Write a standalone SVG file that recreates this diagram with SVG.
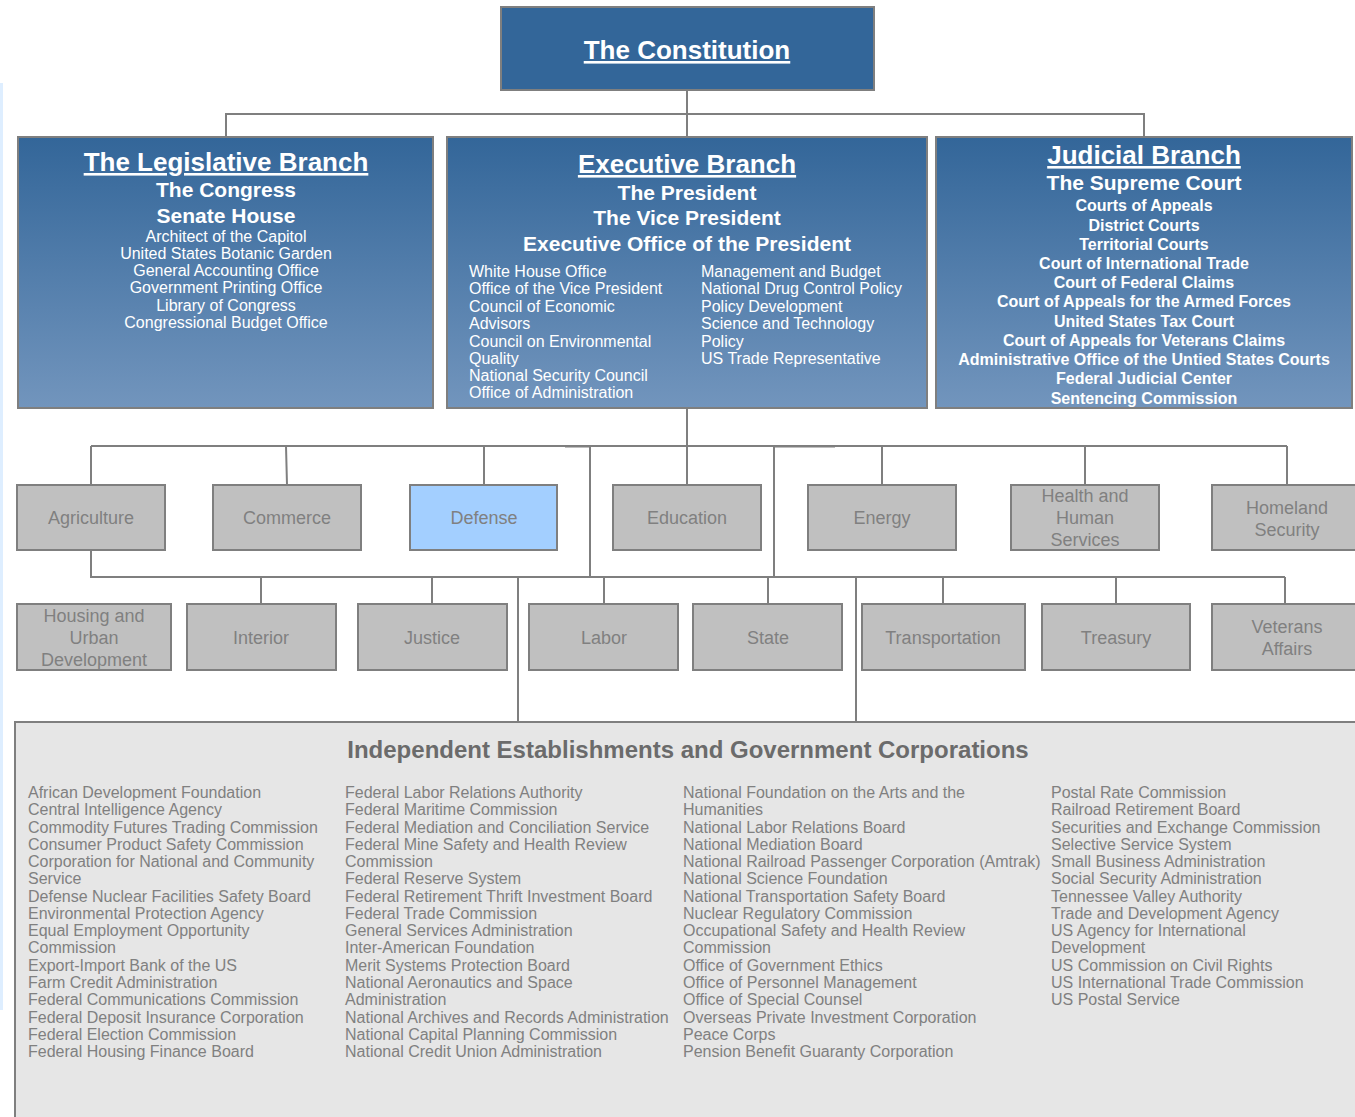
<svg xmlns="http://www.w3.org/2000/svg" width="1355" height="1117" viewBox="0 0 1355 1117">
<defs>
<linearGradient id="bg" x1="0" y1="0" x2="0" y2="1">
<stop offset="0" stop-color="#336699"/>
<stop offset="1" stop-color="#7295bd"/>
</linearGradient>
<style>
text{font-family:"Liberation Sans",Arial,sans-serif}
.br{fill:url(#bg);stroke:#7f7f7f;stroke-width:2}
.ttl{fill:#fff;font-weight:bold;font-size:26px;text-anchor:middle;text-decoration:underline}
.sub{fill:#fff;font-weight:bold;font-size:21px;text-anchor:middle}
.sm{fill:#fff;font-size:16px}
.smc{fill:#fff;font-size:16px;text-anchor:middle}
.smb{fill:#fff;font-size:16px;font-weight:bold;text-anchor:middle}
.dep{fill:#c0c0c0;stroke:#7f7f7f;stroke-width:2}
.dt{fill:#808080;font-size:18px;text-anchor:middle}
.con{stroke:#7f7f7f;stroke-width:2;fill:none}
.it{fill:#808080;font-size:16px}
</style>
</defs>
<rect x="0" y="0" width="1355" height="1117" fill="#fff"/>
<rect x="0" y="83" width="3" height="927" fill="#deeeff"/>

<g id="connectors">
<path class="con" d="M687 90V137M226 137V114H1144V137"/>
<path class="con" d="M687 408V446M91 446H1287M91 446V485M286 446L287 485M484 446V485M687 446V485M882 446V485M1085 446V485M1287 446V485"/>
<path class="con" d="M565 446.5H590M774 446.5H835" stroke-width="3"/>
<path class="con" d="M590 447V577M774 447V577"/>
<path class="con" d="M91 550V577H1285M261 577V604M432 577V604M604 577V604M768 577V604M943 577V604M1116 577V604M1285 577V604"/>
<path class="con" d="M518 577V722M856 577V722"/>
</g>

<g id="constitution">
<rect x="501" y="7" width="373" height="83" fill="#336699" stroke="#7f7f7f" stroke-width="2"/>
<text class="ttl" x="687" y="59">The Constitution</text>
</g>

<g id="legislative">
<rect class="br" x="18" y="137" width="415" height="271"/>
<text class="ttl" x="226" y="171">The Legislative Branch</text>
<text class="sub" x="226" y="197">The Congress</text>
<text class="sub" x="226" y="223">Senate House</text>
<text class="smc" x="226" y="242">Architect of the Capitol</text>
<text class="smc" x="226" y="259">United States Botanic Garden</text>
<text class="smc" x="226" y="276">General Accounting Office</text>
<text class="smc" x="226" y="293">Government Printing Office</text>
<text class="smc" x="226" y="311">Library of Congress</text>
<text class="smc" x="226" y="328">Congressional Budget Office</text>
</g>

<g id="executive">
<rect class="br" x="447" y="137" width="480" height="271"/>
<text class="ttl" x="687" y="173">Executive Branch</text>
<text class="sub" x="687" y="200">The President</text>
<text class="sub" x="687" y="225">The Vice President</text>
<text class="sub" x="687" y="251">Executive Office of the President</text>
<text class="sm" x="469" y="277">White House Office</text>
<text class="sm" x="469" y="294">Office of the Vice President</text>
<text class="sm" x="469" y="312">Council of Economic</text>
<text class="sm" x="469" y="329">Advisors</text>
<text class="sm" x="469" y="347">Council on Environmental</text>
<text class="sm" x="469" y="364">Quality</text>
<text class="sm" x="469" y="381">National Security Council</text>
<text class="sm" x="469" y="398">Office of Administration</text>
<text class="sm" x="701" y="277">Management and Budget</text>
<text class="sm" x="701" y="294">National Drug Control Policy</text>
<text class="sm" x="701" y="312">Policy Development</text>
<text class="sm" x="701" y="329">Science and Technology</text>
<text class="sm" x="701" y="347">Policy</text>
<text class="sm" x="701" y="364">US Trade Representative</text>
</g>

<g id="judicial">
<rect class="br" x="936" y="137" width="416" height="271"/>
<text class="ttl" x="1144" y="164">Judicial Branch</text>
<text class="sub" x="1144" y="190">The Supreme Court</text>
<text class="smb" x="1144" y="211">Courts of Appeals</text>
<text class="smb" x="1144" y="231">District Courts</text>
<text class="smb" x="1144" y="250">Territorial Courts</text>
<text class="smb" x="1144" y="269">Court of International Trade</text>
<text class="smb" x="1144" y="288">Court of Federal Claims</text>
<text class="smb" x="1144" y="307">Court of Appeals for the Armed Forces</text>
<text class="smb" x="1144" y="327">United States Tax Court</text>
<text class="smb" x="1144" y="346">Court of Appeals for Veterans Claims</text>
<text class="smb" x="1144" y="365">Administrative Office of the Untied States Courts</text>
<text class="smb" x="1144" y="384">Federal Judicial Center</text>
<text class="smb" x="1144" y="404">Sentencing Commission</text>
</g>

<g id="agriculture"><rect class="dep" x="17" y="485" width="148" height="65"/><text class="dt" x="91" y="524">Agriculture</text></g>
<g id="commerce"><rect class="dep" x="213" y="485" width="148" height="65"/><text class="dt" x="287" y="524">Commerce</text></g>
<g id="defense"><rect class="dep" x="410" y="485" width="147" height="65" fill="#a3cfff" style="fill:#a3cfff"/><text class="dt" x="484" y="524">Defense</text></g>
<g id="education"><rect class="dep" x="613" y="485" width="148" height="65"/><text class="dt" x="687" y="524">Education</text></g>
<g id="energy"><rect class="dep" x="808" y="485" width="148" height="65"/><text class="dt" x="882" y="524">Energy</text></g>
<g id="hhs"><rect class="dep" x="1011" y="485" width="148" height="65"/><text class="dt" x="1085" y="502">Health and</text><text class="dt" x="1085" y="524">Human</text><text class="dt" x="1085" y="546">Services</text></g>
<g id="homeland"><rect class="dep" x="1212" y="485" width="150" height="65"/><text class="dt" x="1287" y="514">Homeland</text><text class="dt" x="1287" y="536">Security</text></g>

<g id="hud"><rect class="dep" x="17" y="604" width="154" height="66"/><text class="dt" x="94" y="622">Housing and</text><text class="dt" x="94" y="644">Urban</text><text class="dt" x="94" y="666">Development</text></g>
<g id="interior"><rect class="dep" x="187" y="604" width="149" height="66"/><text class="dt" x="261" y="644">Interior</text></g>
<g id="justice"><rect class="dep" x="358" y="604" width="149" height="66"/><text class="dt" x="432" y="644">Justice</text></g>
<g id="labor"><rect class="dep" x="529" y="604" width="149" height="66"/><text class="dt" x="604" y="644">Labor</text></g>
<g id="state"><rect class="dep" x="693" y="604" width="149" height="66"/><text class="dt" x="768" y="644">State</text></g>
<g id="transportation"><rect class="dep" x="862" y="604" width="163" height="66"/><text class="dt" x="943" y="644">Transportation</text></g>
<g id="treasury"><rect class="dep" x="1042" y="604" width="148" height="66"/><text class="dt" x="1116" y="644">Treasury</text></g>
<g id="veterans"><rect class="dep" x="1212" y="604" width="150" height="66"/><text class="dt" x="1287" y="633">Veterans</text><text class="dt" x="1287" y="655">Affairs</text></g>

<g id="independent">
<rect x="15" y="722" width="1350" height="405" fill="#e6e6e6" stroke="#7f7f7f" stroke-width="2"/>
<text x="688" y="758" text-anchor="middle" font-weight="bold" font-size="24" fill="#6b6b6b">Independent Establishments and Government Corporations</text>
<text class="it" x="28" y="798">
<tspan x="28" dy="0">African Development Foundation</tspan>
<tspan x="28" dy="17.27">Central Intelligence Agency</tspan>
<tspan x="28" dy="17.27">Commodity Futures Trading Commission</tspan>
<tspan x="28" dy="17.27">Consumer Product Safety Commission</tspan>
<tspan x="28" dy="17.27">Corporation for National and Community</tspan>
<tspan x="28" dy="17.27">Service</tspan>
<tspan x="28" dy="17.27">Defense Nuclear Facilities Safety Board</tspan>
<tspan x="28" dy="17.27">Environmental Protection Agency</tspan>
<tspan x="28" dy="17.27">Equal Employment Opportunity</tspan>
<tspan x="28" dy="17.27">Commission</tspan>
<tspan x="28" dy="17.27">Export-Import Bank of the US</tspan>
<tspan x="28" dy="17.27">Farm Credit Administration</tspan>
<tspan x="28" dy="17.27">Federal Communications Commission</tspan>
<tspan x="28" dy="17.27">Federal Deposit Insurance Corporation</tspan>
<tspan x="28" dy="17.27">Federal Election Commission</tspan>
<tspan x="28" dy="17.27">Federal Housing Finance Board</tspan>
</text>
<text class="it" x="345" y="798">
<tspan x="345" dy="0">Federal Labor Relations Authority</tspan>
<tspan x="345" dy="17.27">Federal Maritime Commission</tspan>
<tspan x="345" dy="17.27">Federal Mediation and Conciliation Service</tspan>
<tspan x="345" dy="17.27">Federal Mine Safety and Health Review</tspan>
<tspan x="345" dy="17.27">Commission</tspan>
<tspan x="345" dy="17.27">Federal Reserve System</tspan>
<tspan x="345" dy="17.27">Federal Retirement Thrift Investment Board</tspan>
<tspan x="345" dy="17.27">Federal Trade Commission</tspan>
<tspan x="345" dy="17.27">General Services Administration</tspan>
<tspan x="345" dy="17.27">Inter-American Foundation</tspan>
<tspan x="345" dy="17.27">Merit Systems Protection Board</tspan>
<tspan x="345" dy="17.27">National Aeronautics and Space</tspan>
<tspan x="345" dy="17.27">Administration</tspan>
<tspan x="345" dy="17.27">National Archives and Records Administration</tspan>
<tspan x="345" dy="17.27">National Capital Planning Commission</tspan>
<tspan x="345" dy="17.27">National Credit Union Administration</tspan>
</text>
<text class="it" x="683" y="798">
<tspan x="683" dy="0">National Foundation on the Arts and the</tspan>
<tspan x="683" dy="17.27">Humanities</tspan>
<tspan x="683" dy="17.27">National Labor Relations Board</tspan>
<tspan x="683" dy="17.27">National Mediation Board</tspan>
<tspan x="683" dy="17.27">National Railroad Passenger Corporation (Amtrak)</tspan>
<tspan x="683" dy="17.27">National Science Foundation</tspan>
<tspan x="683" dy="17.27">National Transportation Safety Board</tspan>
<tspan x="683" dy="17.27">Nuclear Regulatory Commission</tspan>
<tspan x="683" dy="17.27">Occupational Safety and Health Review</tspan>
<tspan x="683" dy="17.27">Commission</tspan>
<tspan x="683" dy="17.27">Office of Government Ethics</tspan>
<tspan x="683" dy="17.27">Office of Personnel Management</tspan>
<tspan x="683" dy="17.27">Office of Special Counsel</tspan>
<tspan x="683" dy="17.27">Overseas Private Investment Corporation</tspan>
<tspan x="683" dy="17.27">Peace Corps</tspan>
<tspan x="683" dy="17.27">Pension Benefit Guaranty Corporation</tspan>
</text>
<text class="it" x="1051" y="798">
<tspan x="1051" dy="0">Postal Rate Commission</tspan>
<tspan x="1051" dy="17.27">Railroad Retirement Board</tspan>
<tspan x="1051" dy="17.27">Securities and Exchange Commission</tspan>
<tspan x="1051" dy="17.27">Selective Service System</tspan>
<tspan x="1051" dy="17.27">Small Business Administration</tspan>
<tspan x="1051" dy="17.27">Social Security Administration</tspan>
<tspan x="1051" dy="17.27">Tennessee Valley Authority</tspan>
<tspan x="1051" dy="17.27">Trade and Development Agency</tspan>
<tspan x="1051" dy="17.27">US Agency for International</tspan>
<tspan x="1051" dy="17.27">Development</tspan>
<tspan x="1051" dy="17.27">US Commission on Civil Rights</tspan>
<tspan x="1051" dy="17.27">US International Trade Commission</tspan>
<tspan x="1051" dy="17.27">US Postal Service</tspan>
</text>
</g>
</svg>
